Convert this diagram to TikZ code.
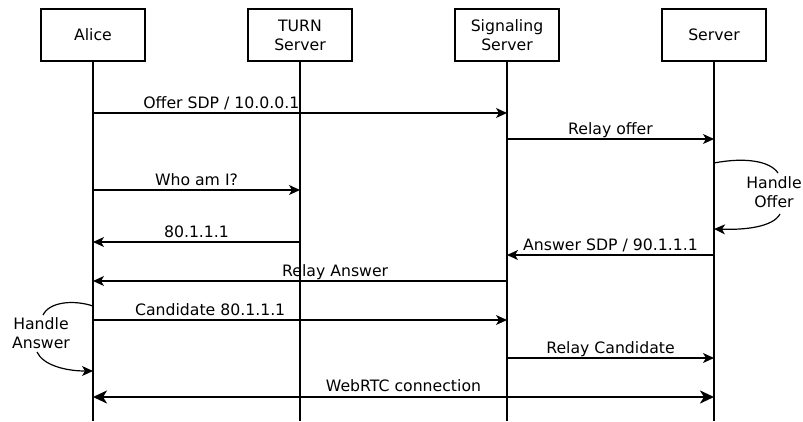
\documentclass[tikz,border=0pt]{standalone}
\usepackage{fontspec}
\setmainfont{DejaVu Sans}
\usetikzlibrary{arrows.meta}
\begin{document}
\begin{tikzpicture}[x=1pt,y=-1pt,
  font=\fontsize{15.7}{19}\selectfont,
  actor/.style={draw,line width=1.2pt,minimum width=104pt,minimum height=52pt,align=center,inner sep=0pt},
  life/.style={line width=1.2pt},
  msg/.style={line width=1.2pt,-{Stealth[length=11pt,width=10pt,inset=3pt]}},
  bigmsg/.style={line width=2.4pt,{Stealth[length=14pt,width=13pt,inset=4pt]}-{Stealth[length=14pt,width=13pt,inset=4pt]}},
  lbl/.style={anchor=base,yshift=5pt,inner sep=0pt},
  note/.style={align=center,inner sep=0pt}]
\useasboundingbox (0,0) rectangle (803,421);

% participants
\node[actor] (alice) at (93,35) {Alice};
\node[actor] (turn) at (300,35) {TURN\\Server};
\node[actor] (sig) at (507,35) {Signaling\\Server};
\node[actor] (srv) at (714,35) {Server};

% lifeline ends
\coordinate (aliceEnd) at (93,421);
\coordinate (turnEnd) at (300,421);
\coordinate (sigEnd) at (507,421);
\coordinate (srvEnd) at (714,421);
\draw[life] (alice.south) -- (aliceEnd);
\draw[life] (turn.south) -- (turnEnd);
\draw[life] (sig.south) -- (sigEnd);
\draw[life] (srv.south) -- (srvEnd);

% message end points on the lifelines
\coordinate (a1) at (93,113);  \coordinate (s1) at (507,113);
\coordinate (s2) at (507,139); \coordinate (v2) at (714,139);
\coordinate (a3) at (93,190);  \coordinate (t3) at (300,190);
\coordinate (t4) at (300,242); \coordinate (a4) at (93,242);
\coordinate (v5) at (714,255); \coordinate (s5) at (507,255);
\coordinate (s6) at (507,281); \coordinate (a6) at (93,281);
\coordinate (a7) at (93,320);  \coordinate (s7) at (507,320);
\coordinate (s8) at (507,358); \coordinate (v8) at (714,358);
\coordinate (a9) at (93,397);  \coordinate (v9) at (714,397);

% messages
\draw[msg] (a1) -- node[lbl,pos=0.31] {Offer SDP / 10.0.0.1} (s1);
\draw[msg] (s2) -- node[lbl] {Relay offer} (v2);
\draw[msg] (a3) -- node[lbl] {Who am I?} (t3);
\draw[msg] (t4) -- node[lbl] {80.1.1.1} (a4);
\draw[msg] (v5) -- node[lbl] {Answer SDP / 90.1.1.1} (s5);
\draw[msg] (s6) -- node[lbl,pos=0.415] {Relay Answer} (a6);
\draw[msg] (a7) -- node[lbl,pos=0.283] {Candidate 80.1.1.1} (s7);
\draw[msg] (s8) -- node[lbl] {Relay Candidate} (v8);
\draw[bigmsg] (a9) -- node[lbl,yshift=1pt] {WebRTC connection} (v9);

% self-handling notes: curved arrows around the label
\node[note] (hoffer) at (774,192) {Handle\\Offer};
\coordinate (ho1) at (714,163);
\coordinate (hoTop) at (778,173);
\coordinate (hoBot) at (780,214);
\coordinate (ho2) at (714,229);
\draw[line width=1.2pt] (ho1) .. controls (745,157) and (770,161) .. (hoTop);
\draw[msg] (hoBot) .. controls (773,227) and (745,230) .. (ho2);

\node[note] (hanswer) at (41,333) {Handle\\Answer};
\coordinate (ha1) at (93,306);
\coordinate (haTop) at (43,315);
\coordinate (haBot) at (37,352);
\coordinate (ha2) at (93,371);
\draw[line width=1.2pt] (ha1) .. controls (75,300) and (50,301) .. (haTop);
\draw[msg] (haBot) .. controls (43,365) and (65,371) .. (ha2);
\end{tikzpicture}
\end{document}
